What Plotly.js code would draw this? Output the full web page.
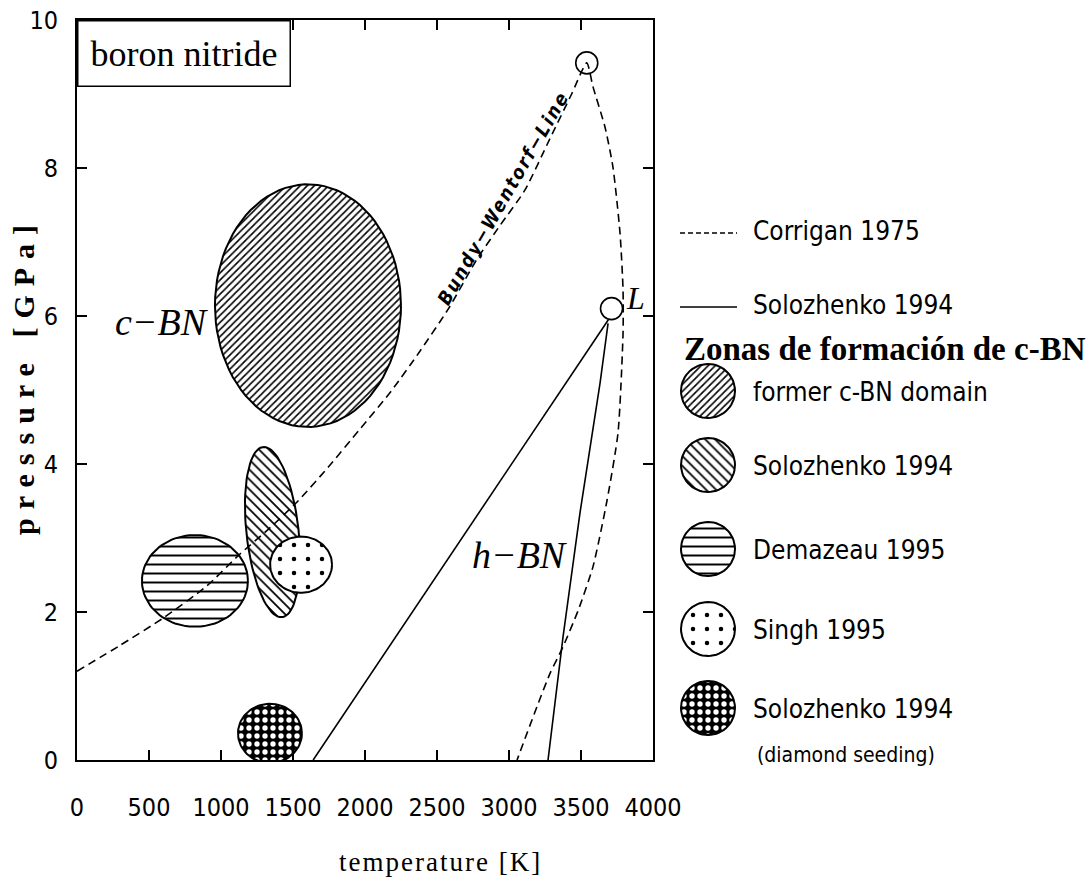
<!DOCTYPE html>
<html>
<head>
<meta charset="utf-8">
<script src="https://cdn.plot.ly/plotly-3.0.1.min.js"></script>
<style>
html,body{margin:0;padding:0;background:#ffffff;}
#chart{width:1086px;height:892px;}
</style>
</head>
<body>
<div id="chart"></div>
<script>
// ---------- tick values ----------
const tempTicks = [0, 500, 1000, 1500, 2000, 2500, 3000, 3500, 4000];
const pressTicks = [0, 2, 4, 6, 8, 10];

// ---------- Corrigan 1975 (Bundy-Wentorf line and melting curve), dashed ----------
const corriganT = [0, 300, 600, 900, 1130, 1330, 1530, 1750, 1960, 2180, 2380, 2580, 2775, 2940, 3110, 3285, 3435, 3540,
                   3583, 3667, 3722, 3771, 3792, 3792, 3757, 3681, 3583, 3480, 3375, 3285, 3194, 3056];
const corriganP = [1.2, 1.55, 1.92, 2.35, 2.78, 3.12, 3.49, 3.97, 4.46, 4.98, 5.52, 6.1, 6.76, 7.23, 7.7, 8.4, 9.0, 9.42,
                   9.1, 8.55, 8.01, 7.12, 6.35, 5.77, 4.42, 3.51, 2.61, 2.02, 1.53, 1.17, 0.72, 0];

// ---------- Solozhenko 1994 lines, solid ----------
const solo1T = [1640, 3690];
const solo1P = [0, 5.95];
const solo2T = [3271, 3375, 3493, 3563, 3632, 3688];
const solo2P = [0, 1.66, 3.34, 4.19, 5.09, 5.9];

// ---------- open circles (triple points) ----------
const circleT = [3540, 3712];
const circleP = [9.42, 6.1];

// ---------- zones of c-BN formation (ellipses) ----------
const zoneNames   = ['former c-BN domain', 'Solozhenko 1994', 'Demazeau 1995', 'Singh 1995', 'Solozhenko 1994'];
const zoneCenterT = [1604, 1358, 819, 1556, 1340];
const zoneCenterP = [6.14, 3.08, 2.42, 2.64, 0.36];
const zoneSemiT   = [646, 180, 368, 215, 222];   // horizontal semi-axis [K]
const zoneSemiP   = [1.64, 1.15, 0.62, 0.38, 0.40]; // vertical semi-axis [GPa]
const zoneTiltT   = [0, -66, 0, 0, 0];            // T shift of the upper end of the vertical axis
const zoneTiltP   = [0, 0.04, 0, 0, 0];           // P shift of the right end of the horizontal axis

// ---------- text ----------
const legendLineLabels = ['Corrigan 1975', 'Solozhenko 1994'];
const legendHeading = 'Zonas de formación de c-BN';
const legendZoneLabels = ['former c-BN domain', 'Solozhenko 1994', 'Demazeau 1995', 'Singh 1995', 'Solozhenko 1994'];
const legendNote = '(diamond seeding)';

// ---------- styles ----------
const NARROW = '"DejaVu Sans Condensed", "Liberation Sans Narrow", "Liberation Sans", sans-serif';
const SERIF = '"Liberation Serif", "Times New Roman", serif';
const zoneStyle = [
  {shape: '/',  size: 5,  solidity: 0.32, fg: '#000', bg: '#fff'},
  {shape: '\\', size: 7,  solidity: 0.25, fg: '#000', bg: '#fff'},
  {shape: '-',  size: 9,  solidity: 0.22, fg: '#000', bg: '#fff'},
  {shape: '.',  size: 14, solidity: 0.08, fg: '#000', bg: '#fff'},
  {shape: '.',  size: 8,  solidity: 0.35, fg: '#fff', bg: '#000'}
];

function ellipsePts(tc, pc, aT, aP, bT, bP, n) {
  const xs = [], ys = [];
  for (let i = 0; i <= n; i++) {
    const t = 2 * Math.PI * i / n;
    xs.push(tc + aT * Math.cos(t) + bT * Math.sin(t));
    ys.push(pc + aP * Math.cos(t) + bP * Math.sin(t));
  }
  return {xs, ys};
}

const traces = [];

// zones
zoneNames.forEach((name, i) => {
  const e = ellipsePts(zoneCenterT[i], zoneCenterP[i], zoneSemiT[i], zoneTiltP[i], zoneTiltT[i], zoneSemiP[i], 90);
  const s = zoneStyle[i];
  traces.push({
    type: 'scatter', mode: 'lines', x: e.xs, y: e.ys, name: name,
    fill: 'toself', fillcolor: s.bg,
    fillpattern: {shape: s.shape, size: s.size, solidity: s.solidity, fgcolor: s.fg, bgcolor: s.bg},
    line: {color: '#000', width: 2}, showlegend: false, hoverinfo: 'skip',
    xaxis: 'x', yaxis: 'y'
  });
});

// Corrigan dashed line
traces.push({type: 'scatter', mode: 'lines', x: corriganT, y: corriganP, name: 'Corrigan 1975',
  line: {color: '#000', width: 1.6, dash: '8px,5px', shape: 'spline', smoothing: 0.6}, showlegend: false});
// Solozhenko lines
traces.push({type: 'scatter', mode: 'lines', x: solo1T, y: solo1P, name: 'Solozhenko 1994',
  line: {color: '#000', width: 1.6}, showlegend: false});
traces.push({type: 'scatter', mode: 'lines', x: solo2T, y: solo2P, name: 'Solozhenko 1994',
  line: {color: '#000', width: 1.6}, showlegend: false});
// open circles
traces.push({type: 'scatter', mode: 'markers', x: circleT, y: circleP,
  marker: {symbol: 'circle-open', size: 22, color: '#000', line: {width: 1.6, color: '#000'}}, showlegend: false});

// ---------- custom legend (pixel-unit helper axes x2/y2) ----------
const legX0 = 672, legX1 = 1086, legTop = 20, legBottom = 760;
const lineRowY = [233, 307];
const headingY = 349;
const zoneRowY = [391, 465, 549, 629, 708];
const noteY = 755;
const iconCx = 708, iconR = 27, sampleX = [680, 737], labelX = 751;

traces.push({type: 'scatter', mode: 'lines', x: sampleX, y: [lineRowY[0], lineRowY[0]], xaxis: 'x2', yaxis: 'y2',
  line: {color: '#000', width: 1.4, dash: '5px,3px'}, showlegend: false, hoverinfo: 'skip'});
traces.push({type: 'scatter', mode: 'lines', x: sampleX, y: [lineRowY[1], lineRowY[1]], xaxis: 'x2', yaxis: 'y2',
  line: {color: '#000', width: 1.4}, showlegend: false, hoverinfo: 'skip'});
zoneRowY.forEach((yy, i) => {
  const e = ellipsePts(iconCx, yy, iconR, 0, 0, iconR, 60);
  const s = zoneStyle[i];
  traces.push({type: 'scatter', mode: 'lines', x: e.xs, y: e.ys, xaxis: 'x2', yaxis: 'y2',
    fill: 'toself', fillcolor: s.bg,
    fillpattern: {shape: s.shape, size: s.size, solidity: s.solidity, fgcolor: s.fg, bgcolor: s.bg},
    line: {color: '#000', width: 2}, showlegend: false, hoverinfo: 'skip'});
});

const annotations = [];
// axis titles
annotations.push({text: '<span style="letter-spacing:2px">temperature [K]</span>', xref: 'x', yref: 'paper',
  x: 2521, y: -0.138, xanchor: 'center', yanchor: 'middle', showarrow: false,
  font: {family: SERIF, size: 27, color: '#000'}});
annotations.push({text: '<b><span style="letter-spacing:9px">pressure [GPa]</span></b>', xref: 'paper', yref: 'paper',
  x: -0.0525, y: 0.519, xanchor: 'center', yanchor: 'middle', textangle: -90, showarrow: false,
  font: {family: SERIF, size: 30, color: '#000'}});
// boxed label
annotations.push({text: 'boron nitride', xref: 'x domain', yref: 'y domain', x: 0, y: 1,
  xanchor: 'left', yanchor: 'top', showarrow: false, bgcolor: '#fff', bordercolor: '#000', borderwidth: 1.5,
  borderpad: 12, font: {family: SERIF, size: 36, color: '#000'}});
// phase labels
annotations.push({text: '<i>c−BN</i>', xref: 'x', yref: 'y', x: 590, y: 5.92, showarrow: false,
  font: {family: SERIF, size: 38, color: '#000'}});
annotations.push({text: '<i>h−BN</i>', xref: 'x', yref: 'y', x: 3076, y: 2.77, showarrow: false,
  font: {family: SERIF, size: 38, color: '#000'}});
annotations.push({text: '<i>L</i>', xref: 'x', yref: 'y', x: 3880, y: 6.24, showarrow: false,
  font: {family: SERIF, size: 32, color: '#000'}});
annotations.push({text: '<b><i><span style="letter-spacing:2px">Bundy−Wentorf−Line</span></i></b>', xref: 'x', yref: 'y',
  x: 2955, y: 7.6, textangle: -60, showarrow: false,
  font: {family: NARROW, size: 19, color: '#000'}});
// legend labels
legendLineLabels.forEach((t, i) => annotations.push({text: t, xref: 'x2', yref: 'y2', x: labelX, y: lineRowY[i] - 2,
  xanchor: 'left', yanchor: 'middle', showarrow: false, font: {family: NARROW, size: 26, color: '#000'}}));
annotations.push({text: '<b>' + legendHeading + '</b>', xref: 'x2', yref: 'y2', x: 682, y: headingY,
  xanchor: 'left', yanchor: 'middle', showarrow: false, font: {family: SERIF, size: 33, color: '#000'}});
legendZoneLabels.forEach((t, i) => annotations.push({text: t, xref: 'x2', yref: 'y2', x: labelX, y: zoneRowY[i] + 1,
  xanchor: 'left', yanchor: 'middle', showarrow: false, font: {family: NARROW, size: 26, color: '#000'}}));
annotations.push({text: legendNote, xref: 'x2', yref: 'y2', x: 755, y: noteY,
  xanchor: 'left', yanchor: 'middle', showarrow: false, font: {family: NARROW, size: 21, color: '#000'}});

const plotW = 1086 - 77;
const axisCommon = {
  ticks: 'inside', ticklen: 10, tickwidth: 1.5, tickcolor: '#000',
  showline: true, linewidth: 2, linecolor: '#000', mirror: 'ticks',
  showgrid: false, zeroline: false, fixedrange: true,
  tickfont: {family: NARROW, size: 25, color: '#000'}
};

const layout = {
  width: 1086, height: 892,
  margin: {l: 77, r: 0, t: 20, b: 132},
  paper_bgcolor: '#fff', plot_bgcolor: '#fff',
  showlegend: false, hovermode: false,
  xaxis: Object.assign({}, axisCommon, {domain: [0, 576 / plotW], range: [0, 4000], tickvals: tempTicks,
    ticktext: tempTicks.map(String), anchor: 'y', ticklabelstandoff: 24}),
  yaxis: Object.assign({}, axisCommon, {domain: [0, 1], range: [0, 10], tickvals: pressTicks,
    ticktext: pressTicks.map(String), anchor: 'x', ticklabelstandoff: 12}),
  xaxis2: {domain: [(legX0 - 77) / plotW, 1], range: [legX0, legX1], visible: false, anchor: 'y2', fixedrange: true},
  yaxis2: {domain: [0, 1], range: [legBottom, legTop], visible: false, anchor: 'x2', fixedrange: true},
  annotations: annotations
};

Plotly.newPlot('chart', traces, layout, {staticPlot: true, displayModeBar: false});
</script>
</body>
</html>
